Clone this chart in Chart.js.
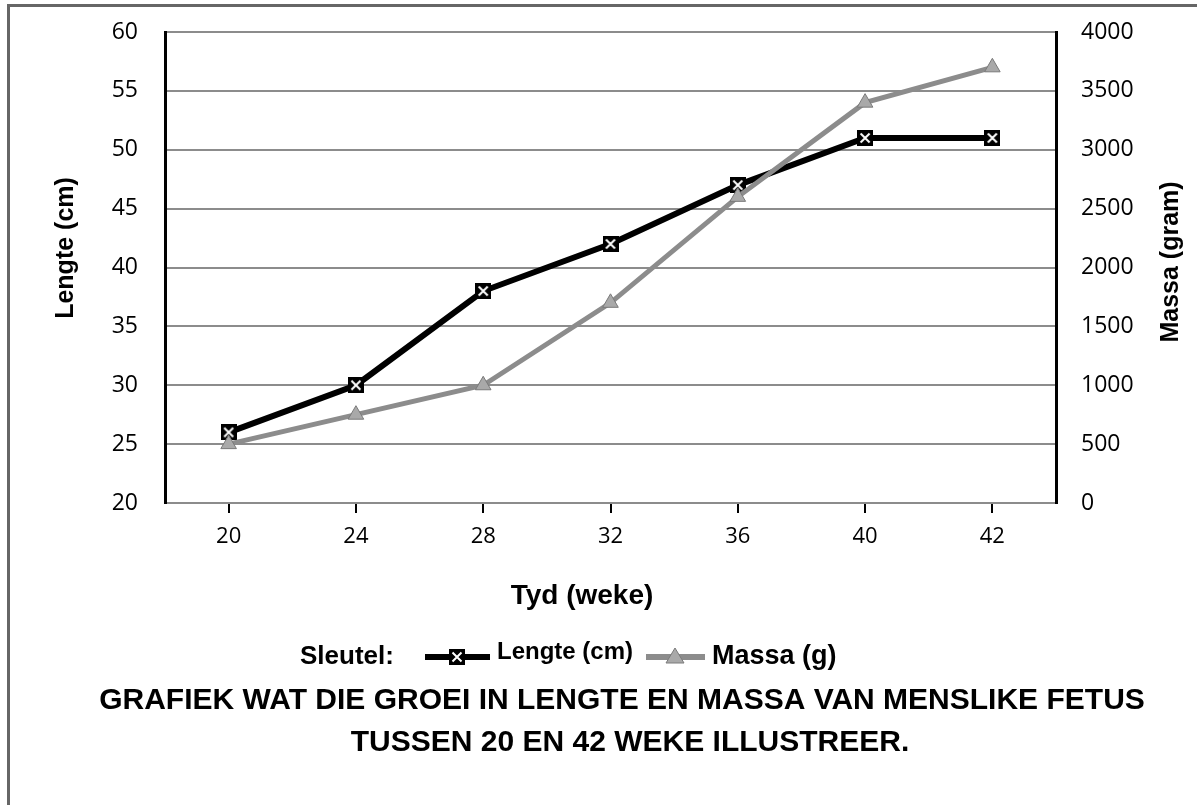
<!DOCTYPE html>
<html>
<head>
<meta charset="utf-8">
<script src="https://cdn.jsdelivr.net/npm/chart.js@4/dist/chart.umd.min.js"></script>
<style>
  html, body { margin: 0; padding: 0; background: #fff; }
  #wrap { width: 1197px; height: 805px; position: relative; }
</style>
</head>
<body>
<div id="wrap"><canvas id="c"></canvas></div>
<script>
// ---- data ----
const weeks = ['20', '24', '28', '32', '36', '40', '42'];
const lengthCm = [26, 30, 38, 42, 47, 51, 51];
const massGram = [500, 750, 1000, 1700, 2600, 3400, 3700];
const leftTicks = [20, 25, 30, 35, 40, 45, 50, 55, 60];
const rightTicks = [0, 500, 1000, 1500, 2000, 2500, 3000, 3500, 4000];
const labels = {
  x: 'Tyd (weke)',
  yLeft: 'Lengte (cm)',
  yRight: 'Massa (gram)',
  key: 'Sleutel:',
  s1: 'Lengte (cm)',
  s2: 'Massa (g)',
  title: ['GRAFIEK WAT DIE GROEI IN LENGTE EN MASSA VAN MENSLIKE FETUS', 'TUSSEN 20 EN 42 WEKE ILLUSTREER.']
};

const SANS = '"Liberation Sans", Arial, sans-serif';
const TICKF = '"Open Sans", "DejaVu Sans", sans-serif';
const GRAYLINE = '#8c8c8c';

// marker: black square with white X
function makeBoxMarker(size) {
  const cv = document.createElement('canvas');
  cv.width = size; cv.height = size;
  const g = cv.getContext('2d');
  g.fillStyle = '#000';
  g.fillRect(0, 0, size, size);
  g.strokeStyle = '#fff';
  g.lineWidth = 2;
  g.beginPath();
  g.moveTo(3.5, 3.5); g.lineTo(size - 3.5, size - 3.5);
  g.moveTo(size - 3.5, 3.5); g.lineTo(3.5, size - 3.5);
  g.stroke();
  return cv;
}
const boxMarker = makeBoxMarker(16);

const framePlugin = {
  id: 'frame',
  beforeDraw(chart) {
    const ctx = chart.ctx;
    ctx.save();
    ctx.fillStyle = '#fff';
    ctx.fillRect(0, 0, chart.width, chart.height);
    ctx.strokeStyle = '#666';
    ctx.lineWidth = 3;
    ctx.beginPath();
    ctx.moveTo(8.5, chart.height);
    ctx.lineTo(8.5, 5.5);
    ctx.lineTo(chart.width, 5.5);
    ctx.stroke();
    ctx.restore();
  }
};

const textPlugin = {
  id: 'texts',
  afterDraw(chart) {
    const ctx = chart.ctx;
    ctx.save();
    ctx.fillStyle = '#000';
    ctx.textAlign = 'center';
    ctx.textBaseline = 'middle';

    // axis titles
    ctx.font = 'bold 25px ' + SANS;
    ctx.save();
    ctx.translate(66, 248);
    ctx.rotate(-Math.PI / 2);
    ctx.fillText(labels.yLeft, 0, 0);
    ctx.restore();

    ctx.save();
    ctx.translate(1171, 262);
    ctx.rotate(-Math.PI / 2);
    ctx.fillText(labels.yRight, 0, 0);
    ctx.restore();

    ctx.font = 'bold 28px ' + SANS;
    ctx.fillText(labels.x, 582, 596);

    // key
    const y = 657;
    ctx.textAlign = 'left';
    ctx.font = 'bold 26px ' + SANS;
    ctx.fillText(labels.key, 300, y);
    ctx.strokeStyle = '#000';
    ctx.lineWidth = 6;
    ctx.beginPath(); ctx.moveTo(425, y); ctx.lineTo(490, y); ctx.stroke();
    ctx.drawImage(boxMarker, 457 - 8, y - 8);
    ctx.font = 'bold 24px ' + SANS;
    ctx.fillText(labels.s1, 497, y - 5);
    ctx.strokeStyle = GRAYLINE;
    ctx.lineWidth = 6;
    ctx.beginPath(); ctx.moveTo(646, y); ctx.lineTo(705, y); ctx.stroke();
    ctx.fillStyle = '#a9a9a9';
    ctx.strokeStyle = '#7a7a7a';
    ctx.lineWidth = 1;
    ctx.beginPath();
    ctx.moveTo(675, y - 9); ctx.lineTo(684, y + 6); ctx.lineTo(666, y + 6); ctx.closePath();
    ctx.fill(); ctx.stroke();
    ctx.fillStyle = '#000';
    ctx.font = 'bold 27px ' + SANS;
    ctx.fillText(labels.s2, 712, y);

    // caption
    ctx.textAlign = 'center';
    ctx.font = 'bold 30px ' + SANS;
    ctx.fillText(labels.title[0], 622, 701);
    ctx.fillText(labels.title[1], 630, 743);
    ctx.restore();
  }
};

new Chart(document.getElementById('c'), {
  type: 'line',
  data: {
    labels: weeks,
    datasets: [
      {
        label: labels.s1,
        data: lengthCm,
        yAxisID: 'yL',
        borderColor: '#000',
        borderWidth: 6,
        pointStyle: boxMarker,
        pointRadius: 8,
        pointHoverRadius: 8,
        order: 1,
        tension: 0
      },
      {
        label: labels.s2,
        data: massGram,
        yAxisID: 'yR',
        borderColor: GRAYLINE,
        borderWidth: 5,
        pointStyle: 'triangle',
        pointRadius: 9,
        pointHoverRadius: 9,
        pointBackgroundColor: '#a9a9a9',
        pointBorderColor: '#7a7a7a',
        pointBorderWidth: 1,
        order: 0,
        tension: 0
      }
    ]
  },
  plugins: [framePlugin, textPlugin],
  options: {
    responsive: true,
    maintainAspectRatio: false,
    animation: false,
    layout: { padding: { top: 32, left: 0, right: 0, bottom: 0 } },
    plugins: {
      legend: { display: false },
      tooltip: { enabled: false },
      title: { display: false }
    },
    scales: {
      x: {
        type: 'category',
        offset: true,
        grid: {
          display: true,
          offset: false,
          drawOnChartArea: false,
          drawTicks: true,
          tickLength: 10,
          color: '#000',
          lineWidth: 2
        },
        border: { display: false },
        ticks: {
          color: '#000',
          font: { family: TICKF, size: 22 },
          padding: 11,
          maxRotation: 0
        },
        afterFit(s) { s.height = 302; }
      },
      yL: {
        type: 'linear',
        position: 'left',
        min: 20,
        max: 60,
        afterBuildTicks(s) { s.ticks = leftTicks.map(v => ({ value: v })); },
        grid: {
          color: GRAYLINE,
          lineWidth: 2,
          drawTicks: true,
          tickLength: 27,
          tickColor: 'rgba(0,0,0,0)'
        },
        border: { display: true, color: '#000', width: 3 },
        ticks: {
          color: '#000',
          font: { family: TICKF, size: 23 },
          padding: 0
        },
        afterFit(s) { s.width = 165; }
      },
      yR: {
        type: 'linear',
        position: 'right',
        min: 0,
        max: 4000,
        afterBuildTicks(s) { s.ticks = rightTicks.map(v => ({ value: v })); },
        grid: {
          display: true,
          drawOnChartArea: false,
          drawTicks: true,
          tickLength: 25,
          tickColor: 'rgba(0,0,0,0)'
        },
        border: { display: true, color: '#000', width: 3 },
        ticks: {
          color: '#000',
          font: { family: TICKF, size: 23 },
          padding: 0,
          callback: (v) => String(v)
        },
        afterFit(s) { s.width = 141; }
      }
    }
  }
});
</script>
</body>
</html>
